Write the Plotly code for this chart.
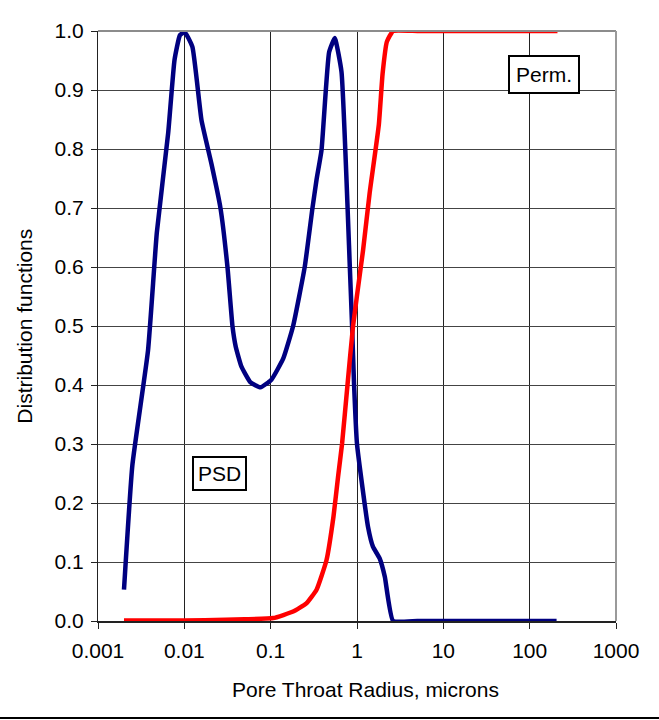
import plotly.graph_objects as go

# Pore throat radius (microns) and PSD distribution function
psd_x = [0.002, 0.0025, 0.0038, 0.0048, 0.0065, 0.0077, 0.0089, 0.0101, 0.0124, 0.0158,
         0.0206, 0.0262, 0.0316, 0.0361, 0.0394, 0.0459, 0.058, 0.0762, 0.102, 0.14,
         0.182, 0.248, 0.305, 0.340, 0.388, 0.475, 0.553, 0.661, 0.826, 0.877, 0.925,
         1.0, 1.34, 1.53, 1.83, 2.10, 2.62, 5, 10, 20, 50, 100, 205]
psd_y = [0.053, 0.264, 0.459, 0.658, 0.827, 0.951, 0.993, 0.998, 0.973, 0.849,
         0.775, 0.70, 0.60, 0.50, 0.465, 0.431, 0.405, 0.396, 0.409, 0.445,
         0.50, 0.60, 0.70, 0.748, 0.798, 0.964, 0.988, 0.931, 0.60, 0.50, 0.40,
         0.30, 0.16, 0.126, 0.106, 0.075, 0.0, 0.0, 0.0, 0.0, 0.0, 0.0, 0.0]

# Permeability distribution function
perm_x = [0.002, 0.01, 0.03, 0.05, 0.107, 0.182, 0.259, 0.34, 0.443, 0.534,
          0.604, 0.671, 0.776, 0.90, 1.107, 1.177, 1.40, 1.79, 1.98, 2.22, 2.62,
          5, 10, 20, 50, 100, 210]
perm_y = [0.001, 0.001, 0.002, 0.003, 0.005, 0.016, 0.030, 0.053, 0.103, 0.177,
          0.245, 0.30, 0.40, 0.50, 0.60, 0.629, 0.725, 0.841, 0.928, 0.982, 1.0,
          1.0, 1.0, 1.0, 1.0, 1.0, 1.0]

x_tickvals = [0.001, 0.01, 0.1, 1, 10, 100, 1000]
x_ticktext = ["0.001", "0.01", "0.1", "1", "10", "100", "1000"]
y_tickvals = [0.0, 0.1, 0.2, 0.3, 0.4, 0.5, 0.6, 0.7, 0.8, 0.9, 1.0]

FONT = "Liberation Sans, Arial, sans-serif"
FS = 21

fig = go.Figure()
fig.add_trace(go.Scatter(x=psd_x, y=psd_y, mode="lines", name="PSD",
                         line=dict(color="#000080", width=4.5, shape="spline", smoothing=0.4)))
fig.add_trace(go.Scatter(x=perm_x, y=perm_y, mode="lines", name="Perm.",
                         line=dict(color="#FF0000", width=4.5, shape="spline", smoothing=0.4)))

fig.update_layout(
    width=659, height=720,
    margin=dict(l=98, r=43, t=31, b=99),
    paper_bgcolor="white", plot_bgcolor="white",
    showlegend=False,
    font=dict(family=FONT, size=FS, color="black"),
    xaxis=dict(type="log", range=[-3, 3], tickvals=x_tickvals, ticktext=x_ticktext,
               showgrid=True, gridcolor="#222", gridwidth=1,
               showline=True, linecolor="#222", linewidth=2,
               ticks="outside", ticklen=6, tickcolor="#222",
               ticklabelstandoff=4,
               tickfont=dict(size=FS), zeroline=False),
    yaxis=dict(range=[0, 1], tickvals=y_tickvals, tickformat=".1f",
               showgrid=True, gridcolor="#444", gridwidth=1,
               showline=True, linecolor="#222", linewidth=1,
               ticks="outside", ticklen=6, tickcolor="#222",
               ticklabelstandoff=3,
               tickfont=dict(size=FS), zeroline=False),
)

# grey top / right frame
fig.add_shape(type="line", xref="paper", yref="paper", x0=0, x1=1, y0=1, y1=1,
              line=dict(color="#8c8c8c", width=2))
fig.add_shape(type="line", xref="paper", yref="paper", x0=1, x1=1, y0=0, y1=1,
              line=dict(color="#9a9a9a", width=2))
# bottom separator line across the image
fig.add_shape(type="line", xref="paper", yref="paper",
              x0=-98 / 518, x1=(659 - 98) / 518, y0=-97 / 590, y1=-97 / 590,
              line=dict(color="black", width=2))

# axis titles
fig.add_annotation(text="Pore Throat Radius, microns", xref="paper", yref="paper",
                   x=(365.5 - 98.3) / 517.8, y=(621.3 - 690) / 590,
                   showarrow=False, xanchor="center", yanchor="middle",
                   font=dict(size=FS))
fig.add_annotation(text="Distribution functions", xref="paper", yref="paper",
                   x=(24 - 98.3) / 517.8, y=0.5, textangle=-90,
                   showarrow=False, xanchor="center", yanchor="middle",
                   font=dict(size=FS))

# boxed labels
fig.add_annotation(text="PSD", x=-1.596, y=0.25, xref="x", yref="y", showarrow=False,
                   bgcolor="white", bordercolor="black", borderwidth=2, borderpad=4,
                   font=dict(size=FS))
fig.add_annotation(text="Perm.", x=2.17, y=0.927, xref="x", yref="y", showarrow=False,
                   bgcolor="white", bordercolor="black", borderwidth=2, borderpad=6,
                   font=dict(size=FS))

fig.write_html("out.html", config={"displayModeBar": False},
               post_script="document.body.style.margin='0px';")
